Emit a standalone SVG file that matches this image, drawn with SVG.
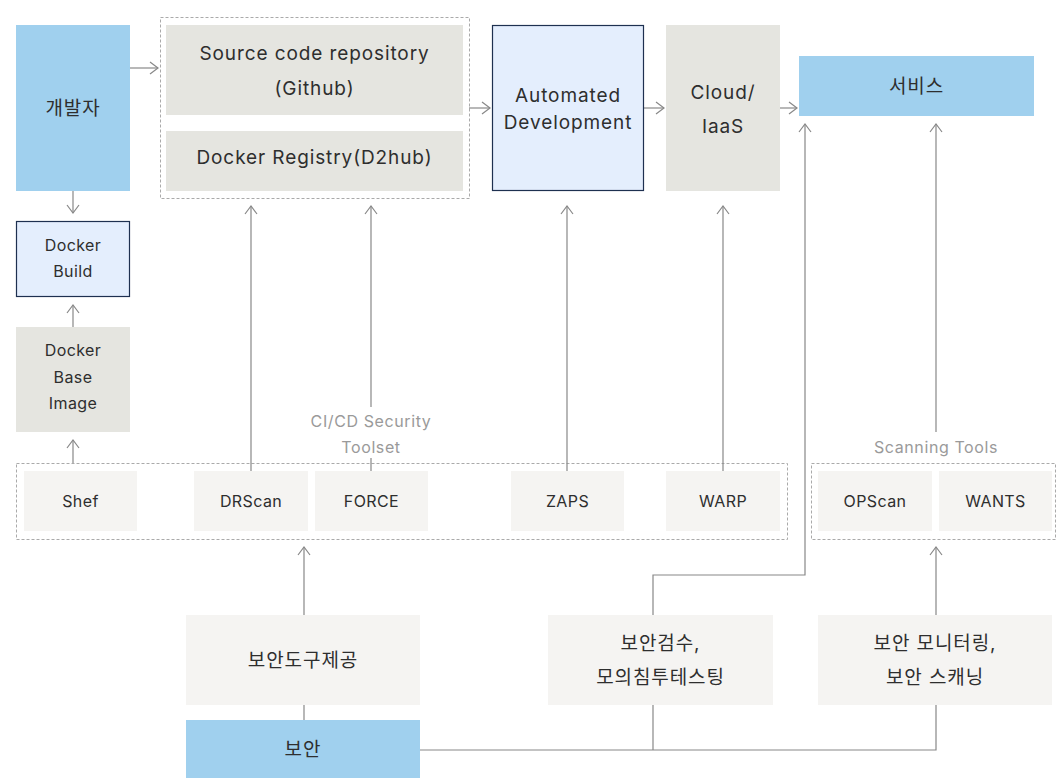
<svg xmlns="http://www.w3.org/2000/svg" width="1059" height="778" viewBox="0 0 1059 778">
<defs>
<marker id="ah" viewBox="0 0 10 14" refX="9" refY="7" markerWidth="10" markerHeight="14" markerUnits="userSpaceOnUse" orient="auto">
<path d="M1,1 L9,7 L1,13" fill="none" stroke="#888" stroke-width="1.2"/>
</marker>
</defs>
<style>
text{font-family:"Inter","Noto Sans CJK KR","DejaVu Sans",sans-serif;fill:#2e2e2e;text-anchor:middle;dominant-baseline:central}
.big{font-size:19px;letter-spacing:0.9px}
.sm{font-size:16px;letter-spacing:0.4px}
.lbl{font-size:16px;letter-spacing:0.6px;fill:#9a9a9a}
.blue{fill:#a0d0ee}
.gray{fill:#e5e5e0}
.light{fill:#f5f4f2}
.pale{fill:#e4eefd;stroke:#1e3050;stroke-width:1.2}
.dash{fill:none;stroke:#aaa;stroke-width:1;stroke-dasharray:3 2}
.ln{fill:none;stroke:#888;stroke-width:1.2}
.arr{fill:none;stroke:#888;stroke-width:1.2;marker-end:url(#ah)}
</style>
<rect x="0" y="0" width="1059" height="778" fill="#fff"/>
<g id="containers">
<rect class="dash" x="160.5" y="17.5" width="309" height="181"/>
<rect class="dash" x="16.5" y="463.5" width="771" height="76"/>
<rect class="dash" x="811.5" y="463.5" width="244" height="76"/>
</g>
<g id="connectors">
<line class="arr" x1="130" y1="68" x2="158" y2="68"/>
<line class="arr" x1="469" y1="108" x2="490" y2="108"/>
<line class="arr" x1="644" y1="108" x2="664" y2="108"/>
<line class="arr" x1="780" y1="108" x2="797" y2="108"/>
<line class="arr" x1="73" y1="191" x2="73" y2="213"/>
<line class="arr" x1="73" y1="327" x2="73" y2="305"/>
<line class="arr" x1="73" y1="463" x2="73" y2="440"/>
<line class="arr" x1="251" y1="471" x2="251" y2="206"/>
<line class="arr" x1="371" y1="407" x2="371" y2="206"/>
<line class="ln" x1="371" y1="458" x2="371" y2="471"/>
<line class="arr" x1="567" y1="471" x2="567" y2="206"/>
<line class="arr" x1="723" y1="471" x2="723" y2="206"/>
<line class="arr" x1="936" y1="432" x2="936" y2="124"/>
<polyline class="arr" points="653,615 653,575 805,575 805,124"/>
<line class="arr" x1="304" y1="615" x2="304" y2="547"/>
<line class="ln" x1="304" y1="705" x2="304" y2="720"/>
<polyline class="arr" points="420,750 936,750 936,547"/>
<line class="ln" x1="653" y1="750" x2="653" y2="705"/>
</g>
<g id="dev"><rect class="blue" x="16" y="25" width="114" height="166"/><text class="big" x="73" y="108">개발자</text></g>
<g id="repo"><rect class="gray" x="166" y="25" width="297" height="90"/><text class="big" x="314.5" y="53">Source code repository</text><text class="big" x="314.5" y="88">(Github)</text></g>
<g id="registry"><rect class="gray" x="166" y="131" width="297" height="60"/><text class="big" x="314.5" y="157">Docker Registry(D2hub)</text></g>
<g id="auto"><rect class="pale" x="492.5" y="25.5" width="151" height="165"/><text class="big" x="568" y="95">Automated</text><text class="big" x="568" y="122">Development</text></g>
<g id="cloud"><rect class="gray" x="666" y="25" width="114" height="166"/><text class="big" x="723" y="92">Cloud/</text><text class="big" x="723" y="126">IaaS</text></g>
<g id="service"><rect class="blue" x="799" y="56" width="235" height="60"/><text class="big" x="916.5" y="86">서비스</text></g>
<g id="dbuild"><rect class="pale" x="16.5" y="221.5" width="113" height="75"/><text class="sm" x="73" y="245">Docker</text><text class="sm" x="73" y="271">Build</text></g>
<g id="dbase"><rect class="gray" x="16" y="327" width="114" height="105"/><text class="sm" x="73" y="350">Docker</text><text class="sm" x="73" y="377">Base</text><text class="sm" x="73" y="403">Image</text></g>
<g id="cicd-label"><text class="lbl" x="371" y="421">CI/CD Security</text><text class="lbl" x="371" y="447">Toolset</text></g>
<g id="scan-label"><text class="lbl" x="936" y="447">Scanning Tools</text></g>
<g id="shef"><rect class="light" x="24" y="471" width="113" height="60"/><text class="sm" x="80.5" y="501">Shef</text></g>
<g id="drscan"><rect class="light" x="194" y="471" width="114" height="60"/><text class="sm" x="251" y="501">DRScan</text></g>
<g id="force"><rect class="light" x="315" y="471" width="113" height="60"/><text class="sm" x="371.5" y="501">FORCE</text></g>
<g id="zaps"><rect class="light" x="511" y="471" width="113" height="60"/><text class="sm" x="567.5" y="501">ZAPS</text></g>
<g id="warp"><rect class="light" x="666" y="471" width="114" height="60"/><text class="sm" x="723" y="501">WARP</text></g>
<g id="opscan"><rect class="light" x="818" y="471" width="114" height="60"/><text class="sm" x="875" y="501">OPScan</text></g>
<g id="wants"><rect class="light" x="939" y="471" width="113" height="60"/><text class="sm" x="995.5" y="501">WANTS</text></g>
<g id="tools"><rect class="light" x="186" y="615" width="234" height="90"/><text class="big" x="303" y="660">보안도구제공</text></g>
<g id="audit"><rect class="light" x="548" y="615" width="225" height="90"/><text class="big" x="660.5" y="643">보안검수,</text><text class="big" x="660.5" y="677">모의침투테스팅</text></g>
<g id="monitor"><rect class="light" x="818" y="615" width="234" height="90"/><text class="big" x="935" y="643">보안 모니터링,</text><text class="big" x="935" y="677">보안 스캐닝</text></g>
<g id="security"><rect class="blue" x="186" y="720" width="234" height="58"/><text class="big" x="303" y="749">보안</text></g>
</svg>
